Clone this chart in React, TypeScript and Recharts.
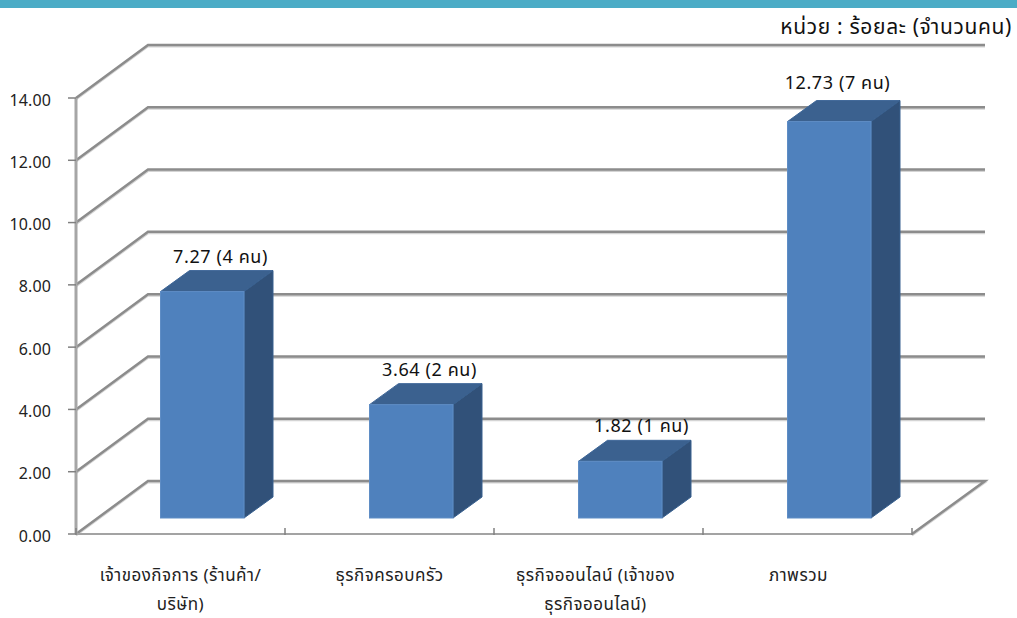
import React from "react";
import { BarChart, Bar, XAxis, YAxis, CartesianGrid, LabelList } from "recharts";

const categories = ["เจ้าของกิจการ (ร้านค้า/บริษัท)", "ธุรกิจครอบครัว", "ธุรกิจออนไลน์ (เจ้าของธุรกิจออนไลน์)", "ภาพรวม"];
const tickLines = [["เจ้าของกิจการ (ร้านค้า/", "บริษัท)"], ["ธุรกิจครอบครัว"], ["ธุรกิจออนไลน์ (เจ้าของ", "ธุรกิจออนไลน์)"], ["ภาพรวม"]];
const values = [7.27, 3.64, 1.82, 12.73];
const people = [4, 2, 1, 7];
const yTicks = [0, 2, 4, 6, 8, 10, 12, 14];
const data = categories.map((name, i) => ({ name, value: values[i], people: people[i] }));

const WIDTH = 1017;
const HEIGHT = 618;
const FONT = "'Noto Sans Thai', 'Noto Sans', Tahoma, sans-serif";
const WALL_DX = 72;
const WALL_DY = 53;
const BAR_DX = 21.5;
const BAR_DY = 16;
const SIDE_DX = 29;
const SIDE_DY = 21;

function gridLine(props: any) {
  const { x1, x2, y1, index } = props;
  const isFloor = Math.abs(y1 - 534) < 2;
  const bx1 = x1 + WALL_DX;
  const bx2 = x2 + WALL_DX + 1;
  const by = y1 - WALL_DY;
  const d = `M${x1},${y1}L${bx1},${by}L${bx2},${by}` + (isFloor ? `L${x2},${y1}` : "");
  return (
    <g key={`grid-${index}`}>
      <path d={d} transform="translate(0,1.5)" fill="none" stroke="#d4d4d4" strokeWidth={2} />
      <path d={d} fill="none" stroke="#8c8c8c" strokeWidth={2.5} />
    </g>
  );
}

function Box3D(props: any) {
  const { x, y, width, height } = props;
  const fx = x + BAR_DX;
  const fy = y - BAR_DY;
  const w = width - 0.5;
  const r = fx + w;
  const b = fy + height;
  return (
    <g>
      <polygon points={`${fx},${fy} ${fx + SIDE_DX},${fy - SIDE_DY} ${r + SIDE_DX},${fy - SIDE_DY} ${r},${fy}`} fill="#3b618f" stroke="#3f6798" strokeWidth={1} />
      <polygon points={`${r},${fy} ${r + SIDE_DX},${fy - SIDE_DY} ${r + SIDE_DX},${b - SIDE_DY} ${r},${b}`} fill="#315179" stroke="#38608f" strokeWidth={1} />
      <rect x={fx} y={fy} width={w} height={height} fill="#4f81bd" stroke="#5f8dc5" strokeWidth={1} />
    </g>
  );
}

const labelShift = [
  { dx: 18, dy: -14 },
  { dx: 18, dy: -14 },
  { dx: 21, dy: -14 },
  { dx: 8, dy: -18 },
];

function BarLabel(props: any) {
  const { x, y, width, index } = props;
  const s = labelShift[index];
  return (
    <text
      x={x + BAR_DX + width / 2 + s.dx}
      y={y - BAR_DY - SIDE_DY + s.dy + 6}
      textAnchor="middle"
      fontFamily={FONT}
      fontSize={18}
      letterSpacing={0.6}
      fill="#111"
    >
      {`${values[index].toFixed(2)} (${people[index]} คน)`}
    </text>
  );
}

function CategoryTick(props: any) {
  const { x, y, index, width } = props;
  const lines = tickLines[index] || [];
  const shift = index === 3 ? -9 : index === 2 ? -3 : 0;
  const band = width / categories.length;
  const left = x - band / 2;
  const axisY = y - 8;
  return (
    <g>
      <line x1={left} x2={left} y1={axisY} y2={axisY + 7} stroke="#808080" strokeWidth={1.5} />
      {index === categories.length - 1 ? (
        <line x1={left + band} x2={left + band} y1={axisY} y2={axisY + 7} stroke="#808080" strokeWidth={1.5} />
      ) : null}
      {lines.map((l: string, i: number) => (
        <text key={l} x={x + shift} y={axisY + 52.5 + i * 29} textAnchor="middle" fontFamily={FONT} fontSize={17} letterSpacing={0.5} fill="#222">
          {l}
        </text>
      ))}
    </g>
  );
}

function ValueTick(props: any) {
  const { x, y, payload } = props;
  return (
    <text x={x - 15} y={y + 7.5} textAnchor="end" fontFamily={FONT} fontSize={16} letterSpacing={0.1} fill="#222">
      {Number(payload.value).toFixed(2)}
    </text>
  );
}

export default function App() {
  return (
    <div style={{ position: "absolute", left: 0, top: 0, width: WIDTH, height: HEIGHT, background: "#fff", overflow: "hidden" }}>
      <BarChart
        width={WIDTH}
        height={HEIGHT}
        data={data}
        margin={{ top: 98, right: 105, bottom: 0, left: 0 }}
        barCategoryGap="60%"
        style={{ position: "absolute", left: 0, top: 0 }}
      >
        <CartesianGrid vertical={false} horizontal={gridLine} />
        <XAxis
          dataKey="name"
          height={84}
          interval={0}
          axisLine={{ stroke: "#a3a3a3", strokeWidth: 2 }}
          tickLine={false}
          tickSize={0}
          tick={<CategoryTick />}
        />
        <YAxis
          width={76}
          domain={[0, 14]}
          ticks={yTicks}
          axisLine={{ stroke: "#a6a6a6", strokeWidth: 3 }}
          tickLine={{ stroke: "#808080", strokeWidth: 1.5 }}
          tickSize={8}
          tick={<ValueTick />}
        />
        <Bar dataKey="value" barSize={84} shape={<Box3D />} isAnimationActive={false}>
          <LabelList dataKey="value" content={<BarLabel />} />
        </Bar>
      </BarChart>
      <div style={{ position: "absolute", left: 0, top: 0, width: WIDTH, height: 8, background: "#4bacc6" }} />
      <div style={{ position: "absolute", right: 5, top: 13, fontFamily: FONT, fontSize: 21, lineHeight: "30px", letterSpacing: 0.65, color: "#111", whiteSpace: "nowrap" }}>
        หน่วย : ร้อยละ (จำนวนคน)
      </div>
    </div>
  );
}
